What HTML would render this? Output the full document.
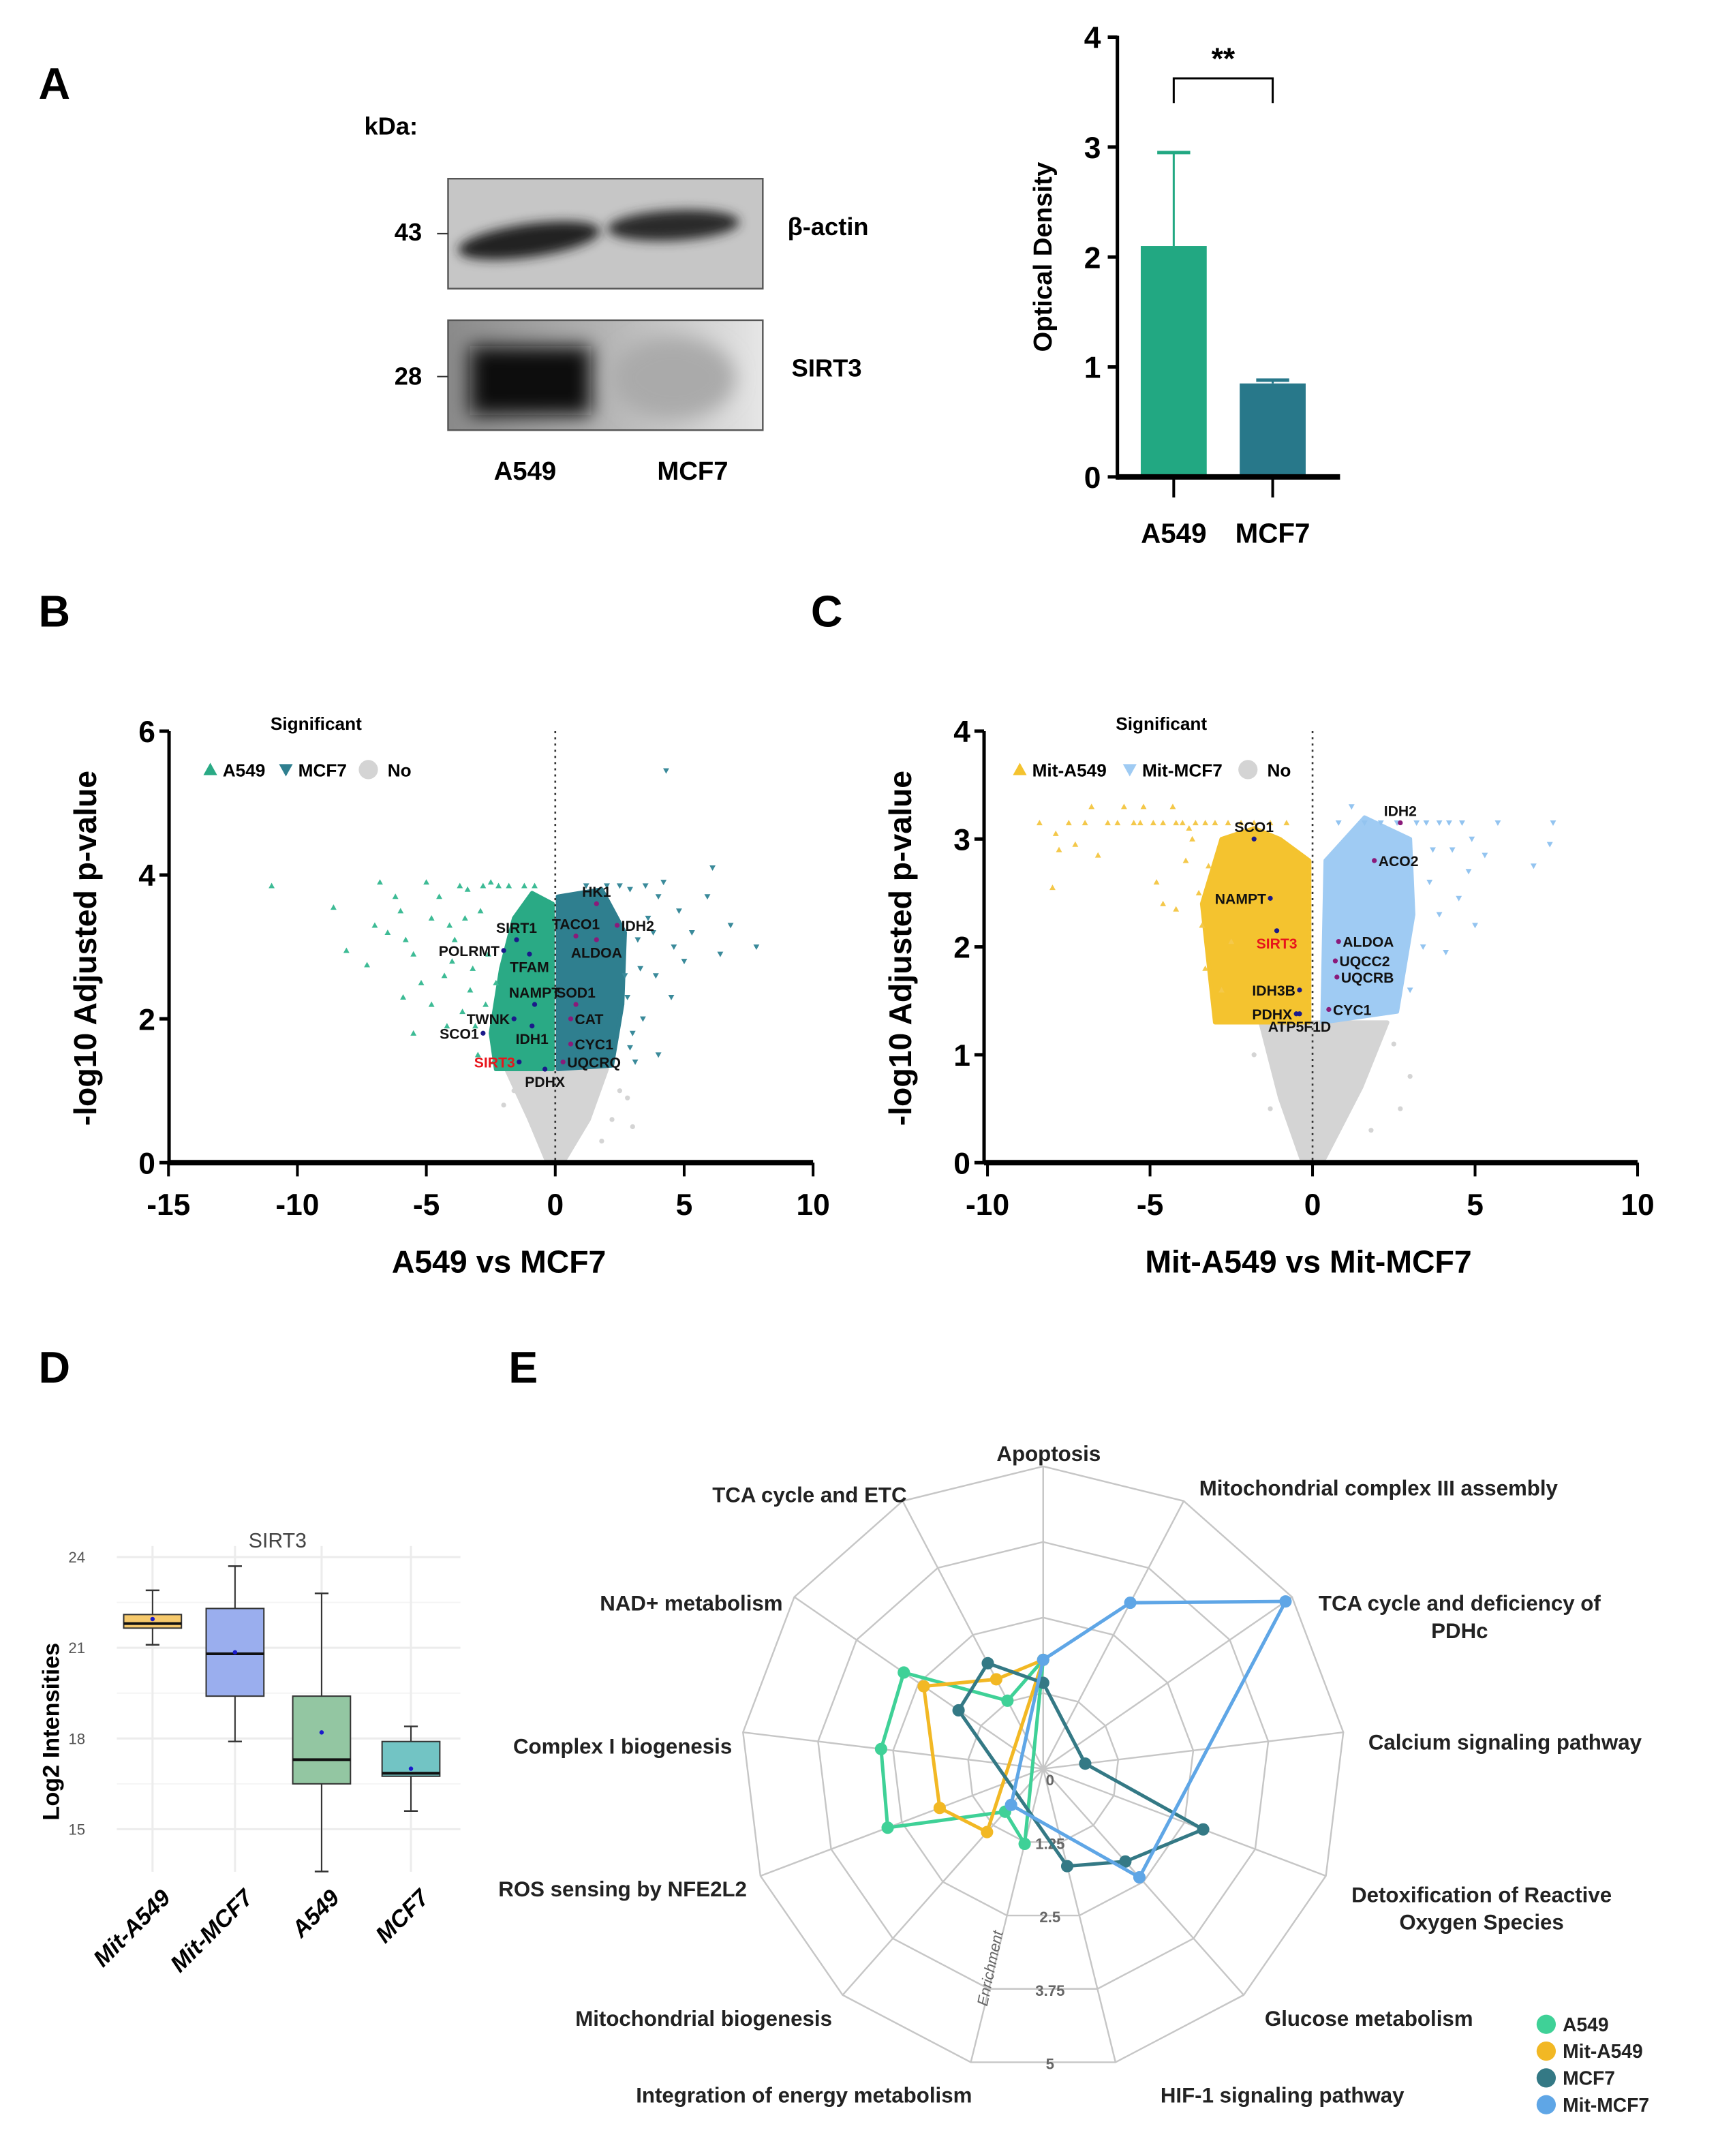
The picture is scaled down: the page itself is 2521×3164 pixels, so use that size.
<!DOCTYPE html>
<html><head><meta charset="utf-8">
<style>
html,body{margin:0;padding:0;background:#fff;}
svg{display:block;font-family:"Liberation Sans",Arial,sans-serif;}
.b{font-weight:bold;}
</style></head>
<body>
<svg id="fig" xmlns="http://www.w3.org/2000/svg" width="2521" height="3164" viewBox="0 0 1250 1568.8">
<defs>
<filter id="blur4" x="-30%" y="-60%" width="160%" height="220%"><feGaussianBlur stdDeviation="4"/></filter>
<filter id="blur8" x="-30%" y="-60%" width="160%" height="220%"><feGaussianBlur stdDeviation="7"/></filter>
<linearGradient id="blot2g" x1="0" x2="1" y1="0" y2="0"><stop offset="0" stop-color="#8a8a8a"/><stop offset="0.5" stop-color="#b4b4b4"/><stop offset="1" stop-color="#e6e6e6"/></linearGradient>
<clipPath id="clip1"><rect x="326" y="130" width="229" height="80"/></clipPath>
<clipPath id="clip2"><rect x="326" y="233" width="229" height="80"/></clipPath>
</defs>
<rect x="0" y="0" width="1250" height="1569" fill="#fff"/>

<text x="28" y="72" font-size="32" class="b">A</text>
<text x="28" y="456" font-size="32" class="b">B</text>
<text x="590" y="456" font-size="32" class="b">C</text>
<text x="28" y="1006" font-size="32" class="b">D</text>
<text x="370" y="1006" font-size="32" class="b">E</text>

<g>
<text x="265" y="98" font-size="18" class="b">kDa:</text>
<g clip-path="url(#clip1)">
<rect x="326" y="130" width="229" height="80" fill="#c6c6c6"/>
<ellipse cx="385" cy="175" rx="52" ry="12" fill="#222" filter="url(#blur4)" transform="rotate(-8 385 175)"/>
<ellipse cx="490" cy="164" rx="48" ry="11" fill="#2a2a2a" filter="url(#blur4)" transform="rotate(-3 490 164)"/>
</g>
<rect x="326" y="130" width="229" height="80" fill="none" stroke="#555" stroke-width="1.2"/>
<g clip-path="url(#clip2)">
<rect x="326" y="233" width="229" height="80" fill="url(#blot2g)"/>
<rect x="342" y="252" width="88" height="50" fill="#111" filter="url(#blur8)"/>
<ellipse cx="490" cy="275" rx="45" ry="30" fill="#aaa" filter="url(#blur8)"/>
</g>
<rect x="326" y="233" width="229" height="80" fill="none" stroke="#555" stroke-width="1.2"/>
<text x="297" y="175" font-size="18" class="b" text-anchor="middle">43</text>
<line x1="318" y1="170" x2="326" y2="170" stroke="#333"/>
<text x="297" y="280" font-size="18" class="b" text-anchor="middle">28</text>
<line x1="318" y1="274" x2="326" y2="274" stroke="#333"/>
<text x="573" y="171" font-size="18" class="b">β-actin</text>
<text x="576" y="274" font-size="18" class="b">SIRT3</text>
<text x="382" y="349" font-size="19" class="b" text-anchor="middle">A549</text>
<text x="504" y="349" font-size="19" class="b" text-anchor="middle">MCF7</text>
</g>

<g id="gA"></g>
<g id="gB"></g>
<g id="gC"></g>
<g id="gD"></g>
<g id="gE"></g>
</svg>
<script>
// ===== Data: bar chart =====
const barCats = ["A549","MCF7"];
const barVals = [2.1, 0.85];
const barErr = [2.95, 0.88];
const barTicks = [0,1,2,3,4];

// ===== Data: volcano B =====
const bTicksX = [-15,-10,-5,0,5,10];
const bTicksY = [0,2,4,6];
const bA549 = [[-11,3.85],[-8.6,3.55],[-8.1,2.95],[-7.3,2.75],[-6.8,3.9],[-6.2,3.7],[-6.5,3.2],[-5.9,2.3],[-5.5,2.9],[-5,3.9],[-4.8,3.4],[-4.3,2.6],[-4.5,3.7],[-3.9,3.1],[-3.6,2.1],[-3.4,3.8],[-3.2,2.7],[-2.9,3.5],[-2.7,2.2],[-4.2,1.9],[-5.2,2.5],[-3.0,1.5],[-2.5,3.9],[-2.6,2.9],[-6,3.5],[-7,3.3],[-4,2.8],[-3.5,3.4],[-3.1,1.9],[-2.4,1.4],[-5.5,1.8],[-4.8,2.2],[-2.8,3.85],[-2.2,3.85],[-1.8,3.85],[-1.2,3.85],[-0.8,3.85],[-3.7,3.85],[-4.1,3.3],[-2.3,2.5],[-3.3,2.4],[-5.8,3.1]];
const bMCF7 = [[4.3,5.45],[6.1,4.1],[5.9,3.7],[5.3,3.2],[7.8,3.0],[6.4,2.9],[4.8,3.5],[4.2,3.9],[3.6,3.4],[3.9,2.6],[3.2,3.1],[4.5,2.3],[3.4,2.0],[4.0,1.5],[3.0,1.8],[2.9,3.8],[3.5,3.85],[2.7,2.6],[5.0,2.8],[3.8,3.2],[6.8,3.3],[4.6,3.0],[3.1,1.4],[2.8,2.3],[1.2,3.85],[2.0,3.85],[2.5,3.85],[4.0,3.7],[3.3,2.7],[2.9,1.6]];
const bGray = [[2.5,1.0],[3.0,0.5],[-2.0,0.8],[2.8,0.9],[1.8,0.3],[-1.6,1.0],[2.2,0.6]];
const bCoreA549 = [[-2.3,1.3],[-0.1,1.3],[-0.1,3.6],[-0.9,3.75],[-1.6,3.4],[-2.1,2.7],[-2.5,1.8]];
const bCoreMCF7 = [[0.1,1.3],[2.2,1.35],[2.6,2.2],[2.7,3.2],[1.8,3.8],[0.1,3.7]];
const bCoreNo = [[-0.3,0],[0.3,0],[1.3,0.6],[2.0,1.3],[-1.9,1.3],[-1.0,0.6]];
const bGenes = ["SIRT1","POLRMT","TFAM","NAMPT","TWNK","SCO1","IDH1","SIRT3","PDHX","HK1","TACO1","IDH2","ALDOA","SOD1","CAT","CYC1","UQCRQ"];
const bGeneX = [-1.5,-2.0,-1.0,-0.8,-1.6,-2.8,-0.9,-1.4,-0.4,1.6,0.8,2.4,1.6,0.8,0.6,0.6,0.3];
const bGeneY = [3.1,2.95,2.9,2.2,2.0,1.8,1.9,1.4,1.3,3.6,3.15,3.3,3.1,2.2,2.0,1.65,1.4];
const bGeneSide = ["a","l","b","a","l","l","b","l","b","a","a","r","b","a","r","r","r"];

// ===== Data: volcano C =====
const cTicksX = [-10,-5,0,5,10];
const cTicksY = [0,1,2,3,4];
const cMitA549 = [[-8.4,3.15],[-7.9,3.05],[-7.5,3.15],[-7.3,2.95],[-7,3.15],[-6.8,3.3],[-6.3,3.15],[-6.0,3.15],[-5.8,3.3],[-5.5,3.15],[-5.3,3.15],[-5.2,3.3],[-4.9,3.15],[-4.6,3.15],[-4.3,3.3],[-4.2,3.15],[-4,3.15],[-3.8,3.1],[-3.6,3.15],[-3.3,3.15],[-3,3.15],[-8,2.55],[-7.8,2.9],[-6.6,2.85],[-4.8,2.6],[-4.2,2.35],[-3.9,2.8],[-3.5,2.5],[-3.4,2.2],[-3.7,3.0],[-2.5,2.05],[-2.8,1.6],[-4.6,2.4],[-3.2,2.75],[-2.6,3.15],[-2.2,3.15],[-1.8,3.15],[-1.3,3.15],[-0.8,3.15],[-3.3,1.8]];
const cMitMCF7 = [[7.4,3.15],[7.3,2.95],[6.8,2.75],[5.7,3.15],[4.6,3.15],[4.2,3.15],[3.9,3.15],[3.5,3.15],[3.2,3.15],[4.8,2.7],[4.5,2.45],[4.3,2.9],[3.9,2.3],[3.6,2.6],[4.1,1.95],[3.4,2.0],[5.0,2.2],[1.2,3.3],[3.7,2.9],[4.9,3.0],[5.3,2.85],[0.8,3.15],[1.6,3.15],[2.1,3.15],[2.6,3.15],[3.0,1.6]];
const cGray = [[2.5,1.1],[3.0,0.8],[-1.8,1.0],[2.7,0.5],[1.8,0.3],[-1.3,0.5]];
const cCoreA549 = [[-3.0,1.3],[-0.1,1.3],[-0.1,2.8],[-1.0,3.0],[-1.8,3.1],[-2.8,3.0],[-3.4,2.4]];
const cCoreMCF7 = [[0.3,1.3],[2.6,1.4],[3.1,2.3],[3.0,3.0],[1.6,3.2],[0.4,2.8]];
const cCoreNo = [[-0.3,0],[0.3,0],[1.5,0.7],[2.3,1.3],[-1.6,1.3],[-1.0,0.6]];
const cGenes = ["SCO1","NAMPT","SIRT3","IDH3B","PDHX","ATP5F1D","IDH2","ACO2","ALDOA","UQCC2","UQCRB","CYC1"];
const cGeneX = [-1.8,-1.3,-1.1,-0.4,-0.5,-0.4,2.7,1.9,0.8,0.7,0.75,0.5];
const cGeneY = [3.0,2.45,2.15,1.6,1.38,1.38,3.15,2.8,2.05,1.87,1.72,1.42];
const cGeneSide = ["a","l","b","l","l","b","a","r","r","r","r","r"];

// ===== Data: box plot =====
const boxCats = ["Mit-A549","Mit-MCF7","A549","MCF7"];
const boxMin = [21.1,17.9,13.6,15.6];
const boxQ1 = [21.65,19.4,16.5,16.75];
const boxMed = [21.8,20.8,17.3,16.85];
const boxQ3 = [22.1,22.3,19.4,17.9];
const boxMax = [22.9,23.7,22.8,18.4];
const boxMean = [21.95,20.85,18.2,17.0];
const boxTicks = [15,18,21,24];

// ===== Data: radar =====
const radarAxes = ["Apoptosis","Mitochondrial complex III assembly","TCA cycle and deficiency of PDHc","Calcium signaling pathway","Detoxification of Reactive Oxygen Species","Glucose metabolism","HIF-1 signaling pathway","Integration of energy metabolism","Mitochondrial biogenesis","ROS sensing by NFE2L2","Complex I biogenesis","NAD+ metabolism","TCA cycle and ETC"];
const radarTicks = [0,1.25,2.5,3.75,5];
const radarA549 = [1.8,null,null,null,null,null,null,1.28,0.95,2.75,2.7,2.8,1.27];
const radarMitA549 = [1.8,null,null,null,null,null,null,null,1.4,1.83,null,2.4,1.67];
const radarMCF7 = [1.42,null,null,0.7,2.83,2.05,1.66,null,null,null,null,1.7,1.97];
const radarMitMCF7 = [1.8,3.1,4.87,null,null,2.4,null,null,0.8,null,null,null,null];

const NS = 'http://www.w3.org/2000/svg';
function mk(tag, attrs, parent){const e=document.createElementNS(NS,tag);for(const k in attrs)e.setAttribute(k,attrs[k]);parent.appendChild(e);return e;}

(function(){
  const g=document.getElementById('gA');
  const X0=813, xA=[854,926], yA=v=>347-v*80;
  const colors=["#22a882","#28788a"];
  barTicks.forEach(t=>{
    const l=mk('line',{x1:X0-7,x2:X0,y1:yA(t),y2:yA(t),stroke:'#000','stroke-width':2.5},g);
    
    
    const tx=mk('text',{x:X0-12,y:yA(t)+8,'font-size':22,'font-weight':'bold','text-anchor':'end'},g);
    tx.textContent=t;
    
    
  });
  barCats.forEach((c,i)=>{
    const cx=xA[i];
    const e=mk('line',{x1:cx,x2:cx,y1:yA(barErr[i]),y2:yA(barVals[i]),stroke:colors[i],'stroke-width':1.5},g);
    
    
    const cap=mk('line',{x1:cx-12,x2:cx+12,y1:yA(barErr[i]),y2:yA(barErr[i]),stroke:colors[i],'stroke-width':2.5},g);
    
    
    const r=mk('rect',{x:cx-24,y:yA(barVals[i]),width:48,height:yA(0)-yA(barVals[i]),fill:colors[i]},g);
    
    
    const tk=mk('line',{x1:cx,x2:cx,y1:348,y2:362,stroke:'#000','stroke-width':2},g);
    
    
    const lb=mk('text',{x:cx,y:395,'font-size':20,'font-weight':'bold','text-anchor':'middle'},g);
    lb.textContent=c;
    
    
  });
  const ya=mk('line',{x1:X0,x2:X0,y1:26,y2:349,stroke:'#000','stroke-width':2.5},g);
  
  
  const xa=mk('line',{x1:X0,x2:975,y1:347,y2:347,stroke:'#000','stroke-width':4},g);
  
  
  const br=mk('path',{d:`M${xA[0]} 75 V57 H${xA[1]} V75`,fill:'none',stroke:'#000','stroke-width':1.5},g);
  
  
  const st=mk('text',{x:890,y:50,'font-size':22,'font-weight':'bold','text-anchor':'middle'},g);
  st.textContent='**';
  
  
  const yt=mk('text',{x:0,y:0,'font-size':19,'font-weight':'bold','text-anchor':'middle',transform:'translate(765 187) rotate(-90)'},g);
  yt.textContent='Optical Density';
  
  
})();

function volcano(cfg){
  const g=document.getElementById(cfg.id);
  const xs=cfg.xs, ys=cfg.ys;
  const poly=(pts,fill,name)=>{
    const p=mk('polygon',{points:pts.map(q=>xs(q[0])+','+ys(q[1])).join(' '),fill:fill,stroke:fill,'stroke-width':3,'stroke-linejoin':'round'},g);
    
    
  };
  poly(cfg.coreNo,'#d4d4d4','density-nonsignificant');
  poly(cfg.coreL,cfg.colL,'density-'+cfg.nameL);
  poly(cfg.coreR,cfg.colR,'density-'+cfg.nameR);
  cfg.gray.forEach(q=>{
    const c=mk('circle',{cx:xs(q[0]),cy:ys(q[1]),r:1.8,fill:'#d4d4d4'},g);
    
    
  });
  const tri=(x,y,up,s)=> up?`M${x} ${y-s} L${x+s} ${y+s*0.8} L${x-s} ${y+s*0.8}Z`:`M${x} ${y+s} L${x+s} ${y-s*0.8} L${x-s} ${y-s*0.8}Z`;
  cfg.ptsL.forEach(q=>{
    const p=mk('path',{d:tri(xs(q[0]),ys(q[1]),true,2.2),fill:cfg.colLpt},g);
    
    
  });
  cfg.ptsR.forEach(q=>{
    const p=mk('path',{d:tri(xs(q[0]),ys(q[1]),false,2.2),fill:cfg.colRpt},g);
    
    
  });
  const z=mk('line',{x1:xs(0),x2:xs(0),y1:ys(cfg.yMax),y2:ys(0),stroke:'#333','stroke-width':1.3,'stroke-dasharray':'1.5 3'},g);
  
  
  cfg.genes.forEach((n,i)=>{
    const x=xs(cfg.gx[i]), y=ys(cfg.gy[i]);
    const d=mk('circle',{cx:x,cy:y,r:1.8,fill:cfg.gx[i]<0?'#1a1a8a':'#8a1a7a'},g);
    
    
    const s=cfg.side[i];
    let tx=x,ty=y+4,an='middle';
    if(s==='l'){tx=x-3;an='end';}
    else if(s==='r'){tx=x+3;an='start';}
    else if(s==='a'){ty=y-5;}
    else {ty=y+13;}
    const t=mk('text',{x:tx,y:ty,'font-size':10.5,'font-weight':'bold','text-anchor':an,fill:n==='SIRT3'?'#e8141b':'#111'},g);
    t.textContent=n;
    
    
  });
  const ya=mk('line',{x1:cfg.x0px,x2:cfg.x0px,y1:ys(cfg.yMax),y2:ys(0),stroke:'#000','stroke-width':2.5},g);
  
  
  const xa=mk('line',{x1:cfg.x0px,x2:xs(cfg.xTicks[cfg.xTicks.length-1]),y1:ys(0),y2:ys(0),stroke:'#000','stroke-width':4},g);
  
  
  cfg.yTicks.forEach(t=>{
    const l=mk('line',{x1:cfg.x0px-7,x2:cfg.x0px,y1:ys(t),y2:ys(t),stroke:'#000','stroke-width':2.5},g);
    
    
    const tx=mk('text',{x:cfg.x0px-10,y:ys(t)+8,'font-size':22,'font-weight':'bold','text-anchor':'end'},g);
    tx.textContent=t;
    
    
  });
  cfg.xTicks.forEach(t=>{
    const l=mk('line',{x1:xs(t),x2:xs(t),y1:ys(0),y2:ys(0)+10,stroke:'#000','stroke-width':2},g);
    
    
    const tx=mk('text',{x:xs(t),y:ys(0)+38,'font-size':22,'font-weight':'bold','text-anchor':'middle'},g);
    tx.textContent=t;
    
    
  });
  const xt=mk('text',{x:cfg.titleX,y:926,'font-size':23,'font-weight':'bold','text-anchor':'middle'},g);
  xt.textContent=cfg.title;
  
  
  const yt=mk('text',{x:0,y:0,'font-size':23,'font-weight':'bold','text-anchor':'middle',transform:`translate(${cfg.ytX} 690) rotate(-90)`},g);
  yt.textContent='-log10 Adjusted p-value';
  
  
  const sg=mk('text',{x:cfg.sigX,y:531,'font-size':13,'font-weight':'bold','text-anchor':'middle'},g);
  sg.textContent='Significant';
  
  
  const L=cfg.legend;
  const p1=mk('path',{d:tri(L[0],560,true,5),fill:cfg.colL},g);
  
  
  const t1=mk('text',{x:L[0]+9,y:565,'font-size':13,'font-weight':'bold'},g);
  t1.textContent=cfg.labL;
  
  
  const p2=mk('path',{d:tri(L[1],560,false,5),fill:cfg.colR},g);
  
  
  const t2=mk('text',{x:L[1]+9,y:565,'font-size':13,'font-weight':'bold'},g);
  t2.textContent=cfg.labR;
  
  
  const p3=mk('circle',{cx:L[2],cy:560,r:7,fill:'#d4d4d4'},g);
  
  
  const t3=mk('text',{x:L[2]+14,y:565,'font-size':13,'font-weight':'bold'},g);
  t3.textContent='No';
  
  
}
volcano({id:'gB',xs:v=>404+v*18.76,ys:v=>846-v*52.33,x0px:123,yMax:6,xTicks:bTicksX,yTicks:bTicksY,
  coreL:bCoreA549,coreR:bCoreMCF7,coreNo:bCoreNo,colL:'#2aaa85',colR:'#2f7f8f',colLpt:'#3dbb95',colRpt:'#3a8a9a',
  ptsL:bA549,ptsR:bMCF7,gray:bGray,nameL:'a549',nameR:'mcf7',labL:'A549',labR:'MCF7',
  genes:bGenes,gx:bGeneX,gy:bGeneY,side:bGeneSide,title:'A549 vs MCF7',titleX:363,ytX:70,sigX:230,legend:[153,208,268]});
volcano({id:'gC',xs:v=>955+v*23.65,ys:v=>846-v*78.5,x0px:716,yMax:4,xTicks:cTicksX,yTicks:cTicksY,
  coreL:cCoreA549,coreR:cCoreMCF7,coreNo:cCoreNo,colL:'#f4c32f',colR:'#9fcbf3',colLpt:'#f4c84a',colRpt:'#93c4f0',
  ptsL:cMitA549,ptsR:cMitMCF7,gray:cGray,nameL:'mit-a549',nameR:'mit-mcf7',labL:'Mit-A549',labR:'Mit-MCF7',
  genes:cGenes,gx:cGeneX,gy:cGeneY,side:cGeneSide,title:'Mit-A549 vs Mit-MCF7',titleX:952,ytX:663,sigX:845,legend:[742,822,908]});

(function(){
  const g=document.getElementById('gD');
  const yD=v=>1133+(24-v)*22;
  const xD=[111,171,234,299];
  const fills=['#f6c96c','#9aaeee','#93c6a2','#72c4c4'];
  boxTicks.forEach(t=>{
    const l=mk('line',{x1:85,x2:335,y1:yD(t),y2:yD(t),stroke:'#ececec','stroke-width':1.5},g);
    
    
    const tx=mk('text',{x:62,y:yD(t)+4,'font-size':11,fill:'#555','text-anchor':'end'},g);
    tx.textContent=t;
    
    
  });
  [16.5,19.5,22.5].forEach(t=>{
    const l=mk('line',{x1:85,x2:335,y1:yD(t),y2:yD(t),stroke:'#f4f4f4','stroke-width':1},g);
    
    
  });
  boxCats.forEach((c,i)=>{
    const x=xD[i];
    const vg=mk('line',{x1:x,x2:x,y1:1125,y2:1362,stroke:'#ececec','stroke-width':1.5},g);
    
    
  });
  boxCats.forEach((c,i)=>{
    const x=xD[i], w=42;
    const wl=mk('line',{x1:x,x2:x,y1:yD(boxMax[i]),y2:yD(boxMin[i]),stroke:'#333','stroke-width':1},g);
    
    
    [boxMax[i],boxMin[i]].forEach(v=>{
      const cp=mk('line',{x1:x-5,x2:x+5,y1:yD(v),y2:yD(v),stroke:'#333','stroke-width':1.2},g);
      
      
    });
    const r=mk('rect',{x:x-w/2,y:yD(boxQ3[i]),width:w,height:yD(boxQ1[i])-yD(boxQ3[i]),fill:fills[i],stroke:'#333','stroke-width':1},g);
    
    
    const m=mk('line',{x1:x-w/2,x2:x+w/2,y1:yD(boxMed[i]),y2:yD(boxMed[i]),stroke:'#111','stroke-width':2},g);
    
    
    const mn=mk('circle',{cx:x,cy:yD(boxMean[i]),r:1.6,fill:'#1a1acc'},g);
    
    
    const lb=mk('text',{x:0,y:0,'font-size':17,'font-weight':'bold','font-style':'italic','text-anchor':'end',transform:`translate(${x+14} 1382) rotate(-45)`},g);
    lb.textContent=c;
    
    
  });
  const tt=mk('text',{x:202,y:1126,'font-size':15,fill:'#444','text-anchor':'middle'},g);
  tt.textContent='SIRT3';
  
  
  const yt=mk('text',{x:0,y:0,'font-size':17,'font-weight':'bold','text-anchor':'middle',transform:'translate(43 1260) rotate(-90)'},g);
  yt.textContent='Log2 Intensities';
  
  
})();

(function(){
  const g=document.getElementById('gE');
  const CX=759, CY=1287, K=44, N=radarAxes.length, MAX=5;
  const ang=i=>(-90+i*360/N)*Math.PI/180;
  const pt=(i,v)=>[CX+Math.cos(ang(i))*v*K, CY+Math.sin(ang(i))*v*K];
  radarTicks.slice(1).forEach(t=>{
    const pts=radarAxes.map((a,i)=>pt(i,t).join(',')).join(' ');
    const p=mk('polygon',{points:pts,fill:'none',stroke:'#c6c6c6','stroke-width':1.2},g);
    
    
  });
  radarAxes.forEach((a,i)=>{
    const e=pt(i,MAX);
    const l=mk('line',{x1:CX,y1:CY,x2:e[0],y2:e[1],stroke:'#c6c6c6','stroke-width':1.2},g);
    
    
  });
  const labPos=[[763,1063,'middle'],[1003,1088,'middle'],[1062,1172,'middle'],[1095,1273,'middle'],[1078,1384,'middle'],[996,1474,'middle'],[933,1530,'middle'],[585,1530,'middle'],[512,1474,'middle'],[453,1380,'middle'],[453,1276,'middle'],[503,1172,'middle'],[589,1093,'middle']];
  const labLines=[["Apoptosis"],["Mitochondrial complex III assembly"],["TCA cycle and deficiency of","PDHc"],["Calcium signaling pathway"],["Detoxification of Reactive","Oxygen Species"],["Glucose metabolism"],["HIF-1 signaling pathway"],["Integration of energy metabolism"],["Mitochondrial biogenesis"],["ROS sensing by NFE2L2"],["Complex I biogenesis"],["NAD+ metabolism"],["TCA cycle and ETC"]];
  labLines.forEach((ls,i)=>{
    ls.forEach((s,j)=>{
      const t=mk('text',{x:labPos[i][0],y:labPos[i][1]+j*20,'font-size':15.5,'font-weight':'bold','text-anchor':labPos[i][2],fill:'#222'},g);
      t.textContent=s;
      
      
    });
  });
  radarTicks.forEach(t=>{
    const y=CY+t*K*Math.cos(Math.PI/N)+(t===0?12:5);
    const tx=mk('text',{x:CX+5,y:y,'font-size':11,'font-weight':'bold',fill:'#666','text-anchor':'middle'},g);
    tx.textContent=t;
    
    
  });
  const en=mk('text',{x:0,y:0,'font-size':11,'font-style':'italic',fill:'#666','text-anchor':'middle',transform:'translate(724 1433) rotate(-78)'},g);
  en.textContent='Enrichment';
  
  
  const series=[[radarA549,'#3fd197','a549'],[radarMitA549,'#f2b824','mit-a549'],[radarMCF7,'#347985','mcf7'],[radarMitMCF7,'#5fa6e6','mit-mcf7']];
  series.forEach(([vals,col,name])=>{
    const pts=[];
    vals.forEach((v,i)=>{ if(v!==null) pts.push(pt(i,v)); });
    const p=mk('polygon',{points:pts.map(q=>q.join(',')).join(' '),fill:'none',stroke:col,'stroke-width':2.5,'stroke-linejoin':'round'},g);
    
    
    pts.forEach(q=>{
      const c=mk('circle',{cx:q[0],cy:q[1],r:4.5,fill:col},g);
      
      
    });
  });
  const leg=[['A549','#3fd197'],['Mit-A549','#f2b824'],['MCF7','#347985'],['Mit-MCF7','#5fa6e6']];
  leg.forEach((l,i)=>{
    const y=1473+i*19.5;
    const c=mk('circle',{cx:1125,cy:y,r:7,fill:l[1]},g);
    
    
    const t=mk('text',{x:1137,y:y+5,'font-size':14,'font-weight':'bold',fill:'#222'},g);
    t.textContent=l[0];
    
    
  });
})();
</script>
</body></html>
